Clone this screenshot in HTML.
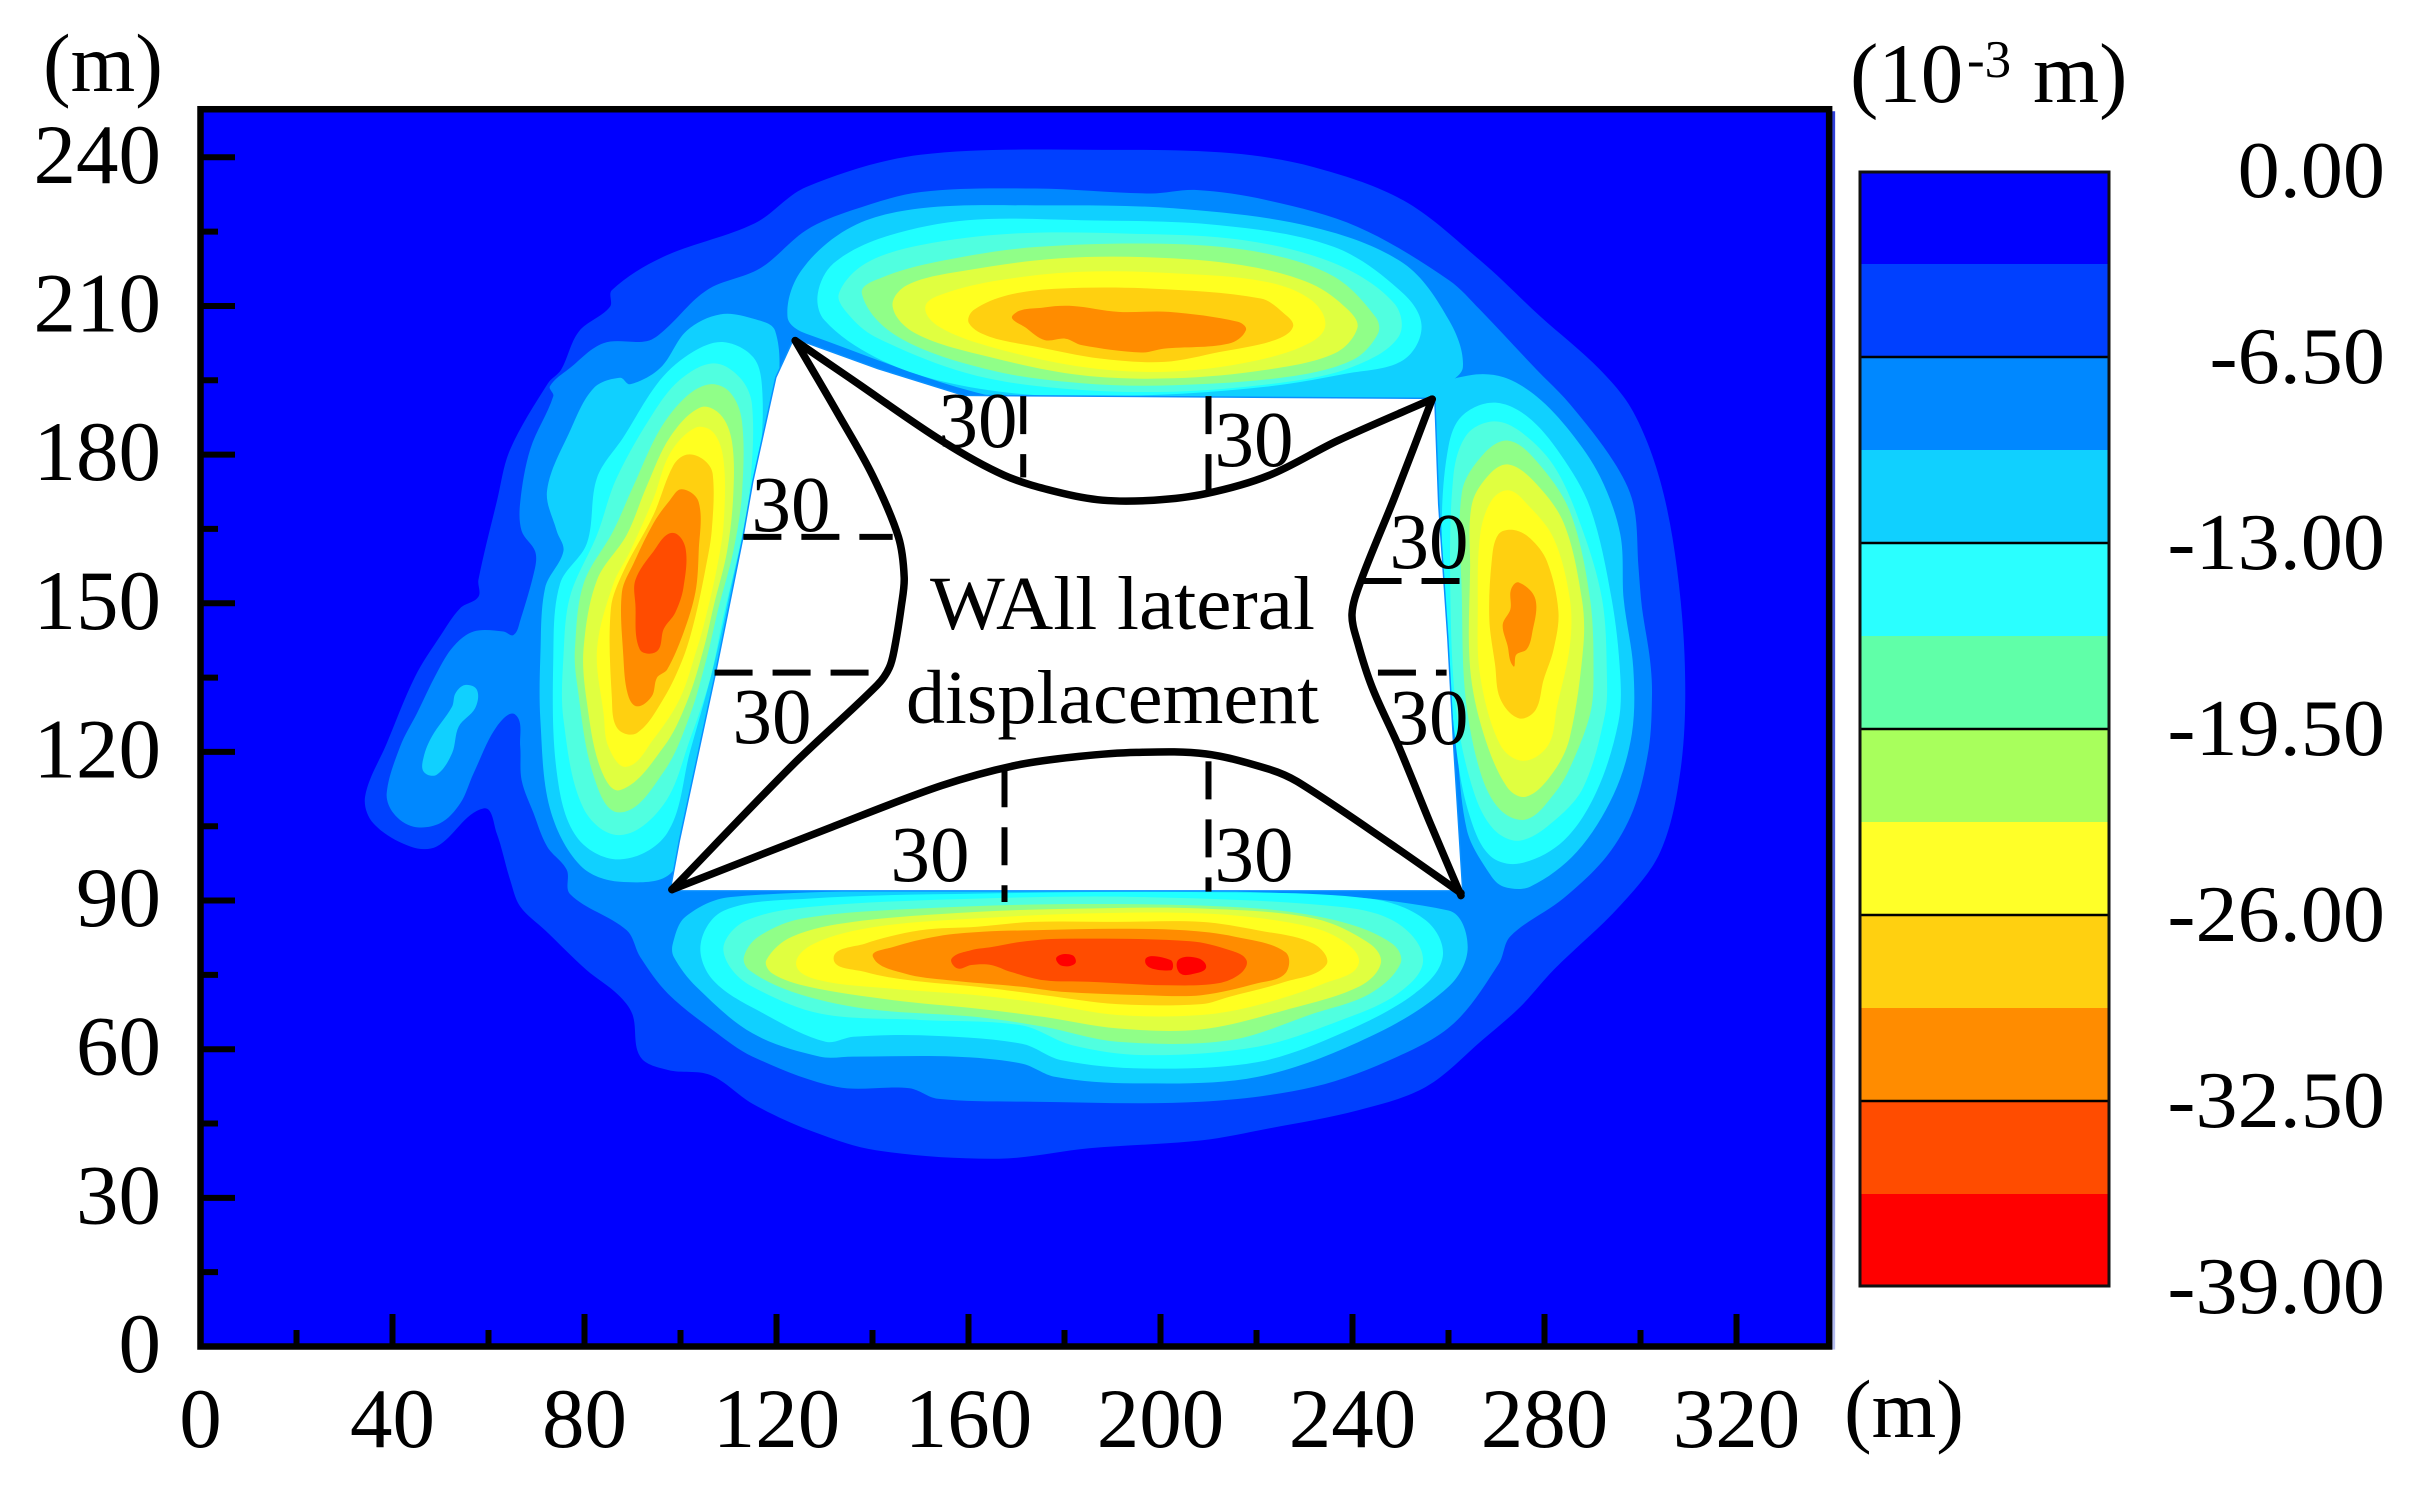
<!DOCTYPE html>
<html lang="en">
<head>
<meta charset="utf-8">
<title>Wall lateral displacement contour</title>
<style>
html,body{margin:0;padding:0;background:#fff;width:2417px;height:1487px;overflow:hidden}
svg{display:block}
text{font-family:"Liberation Serif","Times New Roman",serif;fill:#000}
</style>
</head>
<body>
<svg id="chart" xmlns="http://www.w3.org/2000/svg" width="2417" height="1487" viewBox="0 0 2417 1487">
  <defs>
    <linearGradient id="frameShadow" x1="0" y1="0" x2="0" y2="1">
      <stop offset="0" stop-color="#3040d8"/>
      <stop offset="0.7" stop-color="#5060e0"/>
      <stop offset="1" stop-color="#b8c0f0"/>
    </linearGradient>
  </defs>
  <g id="plot"></g>
  <g id="wallText">
    <text x="930" y="629" font-size="76" textLength="385" lengthAdjust="spacingAndGlyphs">WAll lateral</text>
    <text x="906" y="723" font-size="76" textLength="413" lengthAdjust="spacingAndGlyphs">displacement</text>
    <text x="978" y="447" font-size="79" text-anchor="middle">30</text>
    <text x="1254" y="466" font-size="79" text-anchor="middle">30</text>
    <text x="791" y="531" font-size="79" text-anchor="middle">30</text>
    <text x="772" y="743" font-size="79" text-anchor="middle">30</text>
    <text x="1429" y="568" font-size="79" text-anchor="middle">30</text>
    <text x="1429" y="744" font-size="79" text-anchor="middle">30</text>
    <text x="930" y="881" font-size="79" text-anchor="middle">30</text>
    <text x="1254" y="881" font-size="79" text-anchor="middle">30</text>
  </g>
  <g id="axes"></g>
  <text x="43" y="91" font-size="83">(m)</text>
  <text x="1844" y="1437" font-size="83">(m)</text>
  <g id="colorbar"></g>
  <text y="102" font-size="85"><tspan x="1850">(10</tspan><tspan x="1967" y="77" font-size="53">-3</tspan><tspan x="2033" y="102">m)</tspan></text>
</svg>
<script>
// Axis tick values
const xMajorTicks = [0,40,80,120,160,200,240,280,320];
const xMinorTicks = [20,60,100,140,180,220,260,300];
const yMajorTicks = [0,30,60,90,120,150,180,210,240];
const yMinorTicks = [15,45,75,105,135,165,195,225];
const xDomainMax = 339.3;
const yDomainMax = 249.7;

// Colorbar
const colorbarTicks = [0,-6.5,-13,-19.5,-26,-32.5,-39];
const colorbarLabels = ['0.00','-6.50','-13.00','-19.50','-26.00','-32.50','-39.00'];
const colorbarBandEdges = [0,-3.25,-6.5,-9.75,-13,-16.25,-19.5,-22.75,-26,-29.25,-32.5,-35.75,-39];
const colorbarColors = ['#0000ff','#0040ff','#0088ff','#10d0ff','#2affff','#60ffa8','#a8ff5c','#ffff28','#ffd010','#ff8c00','#ff4c00','#ff0000'];

// Field fill colours by contour level
const levelColors = ['#0000ff','#0040ff','#0088ff','#10d0ff','#20ffff','#50ffe0','#90ff88','#e0ff40','#ffff20','#ffd010','#ff8c00','#ff4c00','#ff0000'];

// Contour outlines, in metres [x, y]
const outerL1 = [[91.6,58.5],[97.4,55.8],[106.2,54.8],[115,49],[126.7,43.7],[140.7,39.6],[166.4,37.9],[185.1,40],[208.5,41.6],[222.5,44],[241.3,47.7],[255.3,52.4],[267,61.8],[274.9,68.5],[281.9,76],[295.8,89],[304.1,99.8],[308.3,116],[309.3,135.3],[307.6,157],[304.1,174.7],[298.5,188.6],[291.6,197.1],[279,208],[266.6,219.2],[250.6,231.3],[232,238],[215,240.8],[190,241.5],[150,240.5],[126.2,234],[115.5,226.7],[96.4,219.9],[85.7,213.2],[85.3,209.8],[78.8,204.8],[75.1,197.1],[72.4,194.4],[64.5,181],[61.8,170.8],[57.9,154.7],[57.9,151.3],[54.1,149],[49.9,143.3],[44.7,135.2],[38.8,121.7],[34.3,111],[36,105.6],[43.7,100.9],[49.2,100.9],[59,108.6],[61.7,103.6],[64.5,94.2],[66.6,88.8],[71.8,84],[80.4,76],[87,71],[90,67]];
const outerL2 = [[91.6,78.6],[97.4,71.2],[106.8,63.8],[115,58.5],[132.5,52.4],[147.7,52.1],[153.6,50],[173.4,49.4],[208.5,49.4],[231.9,52.4],[249.4,58.5],[261.1,65.2],[270.5,77.3],[272.9,82.8],[284,90.5],[293,99],[298.5,108.3],[301.7,120.6],[302.4,131.5],[302,138.4],[300.3,149.2],[299.6,157],[298.5,170.1],[294.4,178.6],[285.3,190.2],[278.4,197.1],[266.6,209.2],[260.1,215.2],[241,226],[221.9,231.4],[207.5,233.4],[197.9,232.7],[174,233.7],[150.1,233],[135.7,229.3],[126.2,225.3],[116.6,217.6],[105.5,213.2],[96.5,205],[93,202.9],[84,202.5],[77,197.5],[72.8,193.8],[73.5,191.8],[68.7,181.1],[66.6,170.4],[66.9,164.6],[69.7,160.5],[69.7,157.2],[66.6,146.5],[65.2,143.6],[63.1,144.3],[56.9,144.3],[52.7,141.3],[49.2,135.9],[45.1,127.8],[41.6,121.1],[38.8,111.7],[40.2,107.6],[44.4,104.9],[49.9,105.6],[54.1,109.6],[56.9,115.7],[61.7,125.1],[65.6,127.5],[66.6,121.1],[66.9,114.3],[69.4,107.6],[72.2,100.9],[76.3,96.2],[77,91.3],[88.8,84]];
const tailL3 = [[55.1,133.5],[57.6,132.5],[57.2,128.8],[53.8,125.1],[52.4,119.7],[49.2,115.4],[46.5,116],[46.5,119],[48.2,123.1],[52.4,129.1],[53.1,131.8]];

const leftL3 = [[108.3,208.3],[115.2,207.4],[119.7,205],[120.2,192.6],[116,174.5],[111.8,155.5],[108.2,140.7],[103.2,116],[98.6,96.2],[87.4,93.8],[79.1,97.1],[72.8,108.6],[70.8,126.7],[70.8,139.1],[71.8,153.1],[75.6,160.5],[74.2,164.6],[72.2,172.8],[77,184.8],[81.9,193.4],[87.4,195.5],[89.5,194.2],[95.8,197.5],[101.3,205]];
const leftL4 = [[109,202.7],[115.2,199.6],[117,193.4],[116.6,180.2],[113.8,167],[111,155.5],[106.9,137.4],[102,120.1],[97.2,103.6],[87.4,98.3],[78.4,102.8],[74.2,116],[73.5,139.1],[74.9,153.9],[80.5,162.1],[82.6,175.3],[88.1,183.5],[95.8,195.1],[102.7,200.8]];
const leftL5 = [[106.9,198.4],[112.4,195.5],[114.9,190.1],[114.5,173.7],[112.1,160.5],[108.9,147.3],[106.2,134.9],[102,122.6],[96.5,109.4],[87.4,103.2],[79.8,108.6],[75.6,126.7],[75.6,139.1],[77,151.4],[82.6,163.8],[86.7,175.3],[94.4,188.5],[99.9,195.1]];
const leftL6 = [[106.2,194.2],[110.3,192.6],[112.8,186.8],[112.8,172],[111,160.5],[107.9,149],[105.5,139.1],[102,127.5],[96.5,116],[87.4,107.8],[81.9,115.2],[78.4,134.1],[78,140.7],[79.8,153.9],[86,164.6],[90.2,173.7],[95.8,185.2],[101.3,191.8]];
const leftL7 = [[104.1,189.5],[108.3,188.1],[110.7,182.7],[111,172],[109.7,160.5],[107,149.8],[104.8,140.7],[101.3,130],[96.5,121],[87.4,112.3],[83.3,116.8],[80.5,130],[79.8,140.7],[82.6,154.7],[88.8,163.8],[93,173.7],[97.8,183.5]];
const leftL8 = [[103.1,185.4],[106.9,184.4],[109,178.6],[109,166.2],[107.6,157.2],[105.3,147.3],[103.4,140.7],[99.9,130.8],[94.4,122.6],[88.8,117],[85,121],[84,127.5],[82.6,140.7],[86,153.9],[89.5,160.5],[94.4,171.2],[97.8,180.2]];
const leftL9 = [[101.3,180],[104.8,179],[106.7,176.1],[106.5,164.6],[105.1,156.4],[103.1,147.3],[100.6,139.1],[96.5,130.8],[90.9,123.8],[86.9,124.7],[85.7,130.8],[85.5,149],[88.1,156.4],[94.4,167.9],[98.5,177.8]];
const leftL10 = [[100.3,173],[103.8,170.4],[103.8,160.5],[103.1,152.2],[100.6,144],[97.2,136.6],[95.1,135],[94,131.2],[90.9,129.2],[89,131.7],[88.1,139.1],[87.8,152.2],[90.2,158],[94.4,166.2],[97.8,170.8]];
const leftL11 = [[98.2,164.2],[101,161.3],[100.6,153.1],[98.9,148.1],[96.5,144.8],[95.1,140.3],[91.5,140.7],[90.6,149.8],[90.6,154.7],[94.4,160.5]];

const topL3 = [[122.3,207.8],[125.2,217.2],[135.7,226],[150.1,229.7],[174,230.3],[202.7,229.7],[231.4,226],[250.6,218.6],[260.1,207.1],[263,197.7],[259.2,193.4],[258.2,190.3],[174,190.3],[126.2,204.4]];
const topL4 = [[128.6,212.5],[131.9,218.6],[142.4,223.9],[159.7,227.3],[183.6,227.3],[212.3,226.3],[236.2,221.9],[250.6,212.5],[254.4,205.8],[250.6,199.1],[239.1,196.4],[221.9,193.7],[197.9,192],[174,192],[154.9,194.7],[140.5,199.7],[130,207.1]];
const topL5 = [[133,212.5],[138.6,218.6],[150.1,222.3],[169.2,224.6],[193.2,224.6],[217.1,223.3],[236.2,218.6],[248.7,210.5],[249.6,203.8],[240,197.7],[226.6,194.7],[202.7,192.7],[178.8,193.4],[159.7,196.4],[140.5,203.8],[134.8,208.5]];
const topL6 = [[137.8,212.5],[142.4,215.9],[154.9,219.2],[174,221.9],[202.7,222.5],[221.9,220.6],[236.2,215.9],[244.8,207.8],[245.3,204.4],[240,199.1],[226.6,195.7],[202.7,194],[183.6,194.4],[164.4,197.1],[145.3,203.8]];
const topL7 = [[144.2,209.8],[147.2,214.2],[159.7,217.2],[178.8,219.6],[198,219.8],[217.1,218.2],[231.4,214.5],[239.1,209.2],[241,205.5],[236.2,200.4],[221.9,197.1],[202.7,195.4],[183.6,196],[164.4,199.7],[149.1,204.4]];
const topL8 = [[151,209.8],[154.9,212.5],[166.4,215.2],[183.6,216.9],[202.7,216.6],[221.9,214.9],[231.4,211.2],[234.3,205.8],[229.5,201.8],[217,198.4],[200.8,196.7],[183.6,197.7],[164.4,201.8],[153.9,205.8]];
const topL9 = [[161.1,209.2],[168.3,212.2],[178.8,213.5],[198,213.5],[220.9,211.5],[225.7,208.5],[227.6,205.8],[223.8,203.1],[212.3,200.7],[200.8,198.7],[187.4,199.4],[174,201.8],[164.4,203.8],[160.1,206.5]];
const topL10 = [[169.2,208.1],[175.9,209.7],[181.7,210],[191.2,208.8],[201.8,208.8],[216.1,206.8],[217.8,205.1],[214.2,202.4],[200.8,201.4],[196,200.6],[183.6,202.1],[180.2,203.4],[175.9,203.1],[172.1,205.5]];

const rightL3 = [[271.5,195.6],[278.4,191.7],[285.3,184.7],[291.6,175.5],[295.8,163.9],[296.5,150.8],[298.5,136.9],[298.2,123.7],[294.4,111.4],[286.7,99.8],[277,92.8],[271.5,92.8],[268.7,95.2],[263.8,104.4],[261.2,127.6],[258,150.8],[256.8,181.7],[258,193.2],[264.5,196]];
const rightL4 = [[269.4,190.5],[276.3,187.8],[283.3,180.1],[289.5,169.3],[294,150.8],[295.8,135.3],[295.4,126],[290.9,112.1],[284,102.1],[274.9,97.5],[268.7,99],[264.5,106.8],[261.7,119.9],[259.7,143.1],[258.6,166.2],[260,181.7],[262.8,187.8]];
const rightL5 = [[269.4,186.7],[274.9,184.7],[281.9,177.8],[287.4,166.2],[292,150.8],[293,135.3],[292.6,127.6],[288.1,112.9],[281.9,106],[274.9,102.1],[269.4,104.4],[265.2,112.1],[261.7,127.6],[260.4,150.8],[261,175.5],[263.8,184]];
const rightL6 = [[272.5,182.8],[278.4,178.6],[285.3,168.5],[289.5,150.8],[290.2,135.3],[289.5,127.6],[285.3,116.8],[281.9,111.4],[276.3,106.4],[270.8,108.3],[266.6,116],[263.5,131.5],[262.8,150.8],[262.8,172.4],[267.3,180.1]];
const rightL7 = [[272.5,178],[277.7,174.7],[284,166.2],[287.8,150.8],[288.1,141.5],[285.3,123],[281.9,116],[276.3,111],[272.2,112.9],[267.3,123.7],[264.5,136.9],[264.5,157],[264.9,170.1],[268.7,176.2]];
const rightL8 = [[272.5,172.8],[276.3,170.1],[281.9,163.1],[285.3,150.8],[285.3,141.5],[282.6,129.1],[280.8,121.4],[275.6,118.2],[270.8,121.4],[266.6,135.3],[266.1,149.2],[266.6,163.9],[269,170.8]];
const rightL9 = [[273.5,164.8],[277,163.1],[280.5,158.5],[282.9,148.4],[281.9,140.7],[279.8,134.5],[278.1,128.4],[274.6,126.8],[270.8,130.7],[269.7,137.6],[268.5,146.9],[269,158.5],[270.4,163.9]];
const rightL10 = [[274.6,154.2],[278.1,150.8],[277.4,143.8],[276.3,140.7],[274.1,139.6],[273.5,137.3],[272.3,141.5],[271.3,145.7],[272.9,148.8],[273,152.7]];

const bottomL3 = [[98.4,81.3],[101,86.7],[110.3,90.7],[161.8,92.1],[208.5,92.1],[260,88],[264,80.6],[260,72.6],[243.6,62.5],[220.2,54.4],[194.5,53.1],[178.1,54.4],[171.1,57.1],[157.1,58.5],[136,58.5],[129,58.5],[115,63.2],[103.3,72.6],[98.6,78.6]];
const bottomL4 = [[104.2,81.3],[109.1,88],[126.7,90.4],[161.8,91.4],[208.5,91.7],[243.6,90.4],[255.3,86],[258.8,78.6],[252.9,71.2],[237.7,63.2],[220.2,57.4],[196.8,56.1],[179.3,57.8],[171.1,61.1],[150,62.8],[136,62.5],[130.2,61.5],[117.3,67.2],[106.8,73.9]];
const bottomL5 = [[109.1,81.3],[113.8,86],[126.7,88.7],[161.8,90.4],[196.8,90.7],[237.7,88.7],[249.4,85.4],[254.7,78],[249.4,71.2],[237.7,65.9],[220.2,60.5],[196.8,58.8],[181.6,60.8],[171.1,64.8],[150,65.9],[129,67.2],[115,72.6],[110.3,76.6]];
const bottomL6 = [[113.2,78.6],[116.2,82.7],[125.5,86.4],[150,88.4],[185.1,89.3],[220.2,88.4],[237.7,85.7],[248.3,81.3],[250,77.3],[243.6,71.2],[231.9,67.2],[214.4,61.8],[191,61.5],[175.8,64.5],[161.8,66.5],[138.4,68.2],[123.2,71.6],[114.4,75.9]];
const bottomL7 = [[117.9,78],[123.2,82.7],[136,85.7],[161.8,87.7],[185.1,88.4],[208.5,88.4],[231.9,86.4],[243.6,81.3],[245.9,77.3],[241.3,72.6],[226,67.9],[208.5,64],[191,64.2],[175.8,66.5],[161.8,68.2],[144.2,69.9],[126.7,72.6],[119.1,75.3]];
const bottomL8 = [[124.1,77],[127.8,81.3],[140.7,84.7],[161.8,86.4],[185.1,87.4],[208.5,87.4],[226,85.7],[236.6,82.7],[241.3,77.3],[234.2,73.3],[220.2,68.9],[208.5,66.9],[191,66.9],[175.8,69.2],[161.8,70.9],[144.2,72.2],[129,73.9]];
const bottomL9 = [[131.9,78.3],[138.4,81.3],[150,84],[161.8,84.7],[173.4,85.7],[191,85.7],[208.5,85.7],[220.2,84],[231.9,81.3],[234.5,77],[226,73.6],[214.4,70.6],[208.5,69.1],[191,69.1],[175.8,70.9],[161.8,72.6],[147.7,73.9],[138.4,75.6]];
const bottomL10 = [[140.1,78.6],[144.2,80.6],[153.6,82.8],[162.9,83.7],[173.4,84],[191,84.3],[205,84],[215.5,82.7],[226,79.6],[226,75.3],[220.2,73.3],[208.5,70.9],[196.8,70.9],[179.3,71.6],[171.1,72.6],[155.9,73.9],[146.6,75.3]];
const bottomL11 = [[156.5,78.3],[160.6,80],[164.7,80.6],[171.1,81.7],[179.3,82.3],[206.2,81.8],[214.4,80],[217.9,78],[216.7,75.3],[212,73.3],[201.5,72.9],[185.1,73.6],[175.8,73.9],[168.8,75.6],[164.7,77],[160.6,77],[157.7,76.3]];
const bottomSpotA = [[178.4,78.6],[181.6,79],[182.2,77.3],[179.3,76.9]];
const bottomSpotB = [[203.8,78.1],[208,78.3],[209.5,76.5],[207.3,75.3],[204.1,75.3]];
const bottomSpotC = [[196.8,77.8],[202.1,78],[202.1,75.9]];

// Excavation opening (no field values)
const openingOutline = [[123.7,203.3],[141.1,197.2],[159,191.8],[257,191.2],[257.8,170],[259.7,143],[261,120],[262.8,92.1],[98,92.1],[99.9,102],[107.6,136.6],[113.1,163],[115.2,174.5],[120,195.5]];

// Deformed wall curves
const wallTop = [[123.9,203],[135.2,195.5],[154.4,182.8],[167.5,175.8],[178.3,172.5],[187.9,170.8],[198.6,170.8],[209.4,172.1],[222.6,175.8],[236.9,182.8],[256.6,191.2]];
const wallRight = [[256.6,191.2],[248.9,171.7],[241.7,154.4],[239.9,147.8],[241.1,142],[244.1,133],[249.5,121.4],[256.1,105.8],[262.6,91]];
const wallBottom = [[262.6,91.5],[247.7,101.6],[228.5,114],[222.6,116.5],[209.4,119.6],[195,119.9],[183.1,119.1],[169.9,117.3],[154.4,113.2],[131.7,104.9],[98.2,92.2]];
const wallLeft = [[98.2,92.2],[123.3,117.3],[141,133.5],[143.5,137],[144.6,141],[146,149.4],[146.6,155.2],[145.4,163.4],[140,175.8],[132.9,188.1],[123.9,203]];

// Dashed 30 m offset markers: [x1, y1, x2, y2]
const offsetTopA = [171.4,191.8,171.4,175.4];
const offsetTopB = [210,191.8,210,172];
const offsetLeftA = [113.1,163.4,144.2,163.4];
const offsetLeftB = [107.1,136,140,136];
const offsetRightA = [242.3,154.5,262.6,154.5];
const offsetRightB = [245.3,136,259.6,136];
const offsetBottomA = [167.5,116.5,167.5,89.7];
const offsetBottomB = [210,118.1,210,91.8];

const contourLayers = [
  ['outer-level-1',1,outerL1],['outer-level-2',2,outerL2],['tail-level-3',3,tailL3],
  ['left-level-3',3,leftL3],['top-level-3',3,topL3],['right-level-3',3,rightL3],['bottom-level-3',3,bottomL3],
  ['left-level-4',4,leftL4],['top-level-4',4,topL4],['right-level-4',4,rightL4],['bottom-level-4',4,bottomL4],
  ['left-level-5',5,leftL5],['top-level-5',5,topL5],['right-level-5',5,rightL5],['bottom-level-5',5,bottomL5],
  ['left-level-6',6,leftL6],['top-level-6',6,topL6],['right-level-6',6,rightL6],['bottom-level-6',6,bottomL6],
  ['left-level-7',7,leftL7],['top-level-7',7,topL7],['right-level-7',7,rightL7],['bottom-level-7',7,bottomL7],
  ['left-level-8',8,leftL8],['top-level-8',8,topL8],['right-level-8',8,rightL8],['bottom-level-8',8,bottomL8],
  ['left-level-9',9,leftL9],['top-level-9',9,topL9],['right-level-9',9,rightL9],['bottom-level-9',9,bottomL9],
  ['left-level-10',10,leftL10],['top-level-10',10,topL10],['right-level-10',10,rightL10],['bottom-level-10',10,bottomL10],
  ['left-level-11',11,leftL11],['bottom-level-11',11,bottomL11],
  ['bottom-peak-a',12,bottomSpotA],['bottom-peak-b',12,bottomSpotB],['bottom-peak-c',12,bottomSpotC]
];
const wallCurves = [['wall-top',wallTop],['wall-right',wallRight],['wall-bottom',wallBottom],['wall-left',wallLeft]];
const offsetMarkers = [
  ['offset-top-a',offsetTopA],['offset-top-b',offsetTopB],['offset-left-a',offsetLeftA],['offset-left-b',offsetLeftB],
  ['offset-right-a',offsetRightA],['offset-right-b',offsetRightB],['offset-bottom-a',offsetBottomA],['offset-bottom-b',offsetBottomB]
];

// Axis functions
function xScale(v){ return 200.5 + 4.8 * v; }
function yScale(v){ return 1346.5 - 4.955 * v; }
function cScale(v){ return 171 + (-v) / 39 * 1116; }

const NS = 'http://www.w3.org/2000/svg';
function make(tag, parent, attrs, text){
  const el = document.createElementNS(NS, tag);
  for (const k in attrs) el.setAttribute(k, attrs[k]);
  if (text !== undefined) el.textContent = text;
  parent.appendChild(el);
  return el;
}
function toPixels(pts){ return pts.map(p => [xScale(p[0]), yScale(p[1])]); }
function unit(a, c){
  const dx = c[0] - a[0], dy = c[1] - a[1], len = Math.hypot(dx, dy) || 1;
  return [dx / len, dy / len];
}
function segment(a, b, c, e){
  const len = Math.hypot(c[0] - b[0], c[1] - b[1]) * 0.33;
  const t1 = unit(a, c), t2 = unit(b, e);
  return 'C' + (b[0] + t1[0] * len).toFixed(1) + ' ' + (b[1] + t1[1] * len).toFixed(1) + ' ' +
         (c[0] - t2[0] * len).toFixed(1) + ' ' + (c[1] - t2[1] * len).toFixed(1) + ' ' +
         c[0].toFixed(1) + ' ' + c[1].toFixed(1);
}
function closedPath(pts){
  const p = toPixels(pts), n = p.length;
  let d = 'M' + p[0][0].toFixed(1) + ' ' + p[0][1].toFixed(1);
  for (let i = 0; i < n; i++){
    d += segment(p[(i - 1 + n) % n], p[i], p[(i + 1) % n], p[(i + 2) % n]);
  }
  return d + 'Z';
}
function openPath(pts){
  const p = toPixels(pts), n = p.length;
  let d = 'M' + p[0][0].toFixed(1) + ' ' + p[0][1].toFixed(1);
  for (let i = 0; i < n - 1; i++){
    d += segment(p[Math.max(i - 1, 0)], p[i], p[i + 1], p[Math.min(i + 2, n - 1)]);
  }
  return d;
}

const plot = document.getElementById('plot');
const axes = document.getElementById('axes');
const colorbar = document.getElementById('colorbar');

const shadow = make('rect', plot, {x:xScale(xDomainMax)+1, y:yScale(yDomainMax)+2, width:5, height:yScale(0)-yScale(yDomainMax)+1, fill:'url(#frameShadow)'});



const fieldBase = make('rect', plot, {x:xScale(0), y:yScale(yDomainMax), width:xScale(xDomainMax)-xScale(0), height:yScale(0)-yScale(yDomainMax), fill:levelColors[0]});



contourLayers.forEach(function(layer){
  const region = make('path', plot, {d:closedPath(layer[2]), fill:levelColors[layer[1]]});
  
  
});

const opening = make('polygon', plot, {
  points: toPixels(openingOutline).map(p => p.join(',')).join(' '),
  fill:'#ffffff', stroke:'#0a90ff', 'stroke-width':3, 'paint-order':'stroke', 'stroke-linejoin':'round'
});



offsetMarkers.forEach(function(m){
  const v = m[1];
  const line = make('line', plot, {x1:xScale(v[0]), y1:yScale(v[1]), x2:xScale(v[2]), y2:yScale(v[3]), stroke:'#000', 'stroke-width':6, 'stroke-dasharray':'38 20'});
  
  
});

wallCurves.forEach(function(w){
  const curve = make('path', plot, {d:openPath(w[1]), fill:'none', stroke:'#000', 'stroke-width':7.5, 'stroke-linejoin':'round', 'stroke-linecap':'round'});
  
  
});

// Frame
const frame = make('rect', axes, {x:xScale(0), y:yScale(yDomainMax), width:xScale(xDomainMax)-xScale(0), height:yScale(0)-yScale(yDomainMax), fill:'none', stroke:'#000', 'stroke-width':6.5});



// Ticks
xMajorTicks.forEach(function(v){
  const t = make('line', axes, {x1:xScale(v), x2:xScale(v), y1:1346, y2:1314, stroke:'#000', 'stroke-width':6});
  
  
  const l = make('text', axes, {x:xScale(v), y:1447, 'font-size':85, 'text-anchor':'middle'}, String(v));
  
  
});
xMinorTicks.forEach(function(v){
  const t = make('line', axes, {x1:xScale(v), x2:xScale(v), y1:1346, y2:1330, stroke:'#000', 'stroke-width':6});
  
  
});
yMajorTicks.forEach(function(v){
  const t = make('line', axes, {x1:200, x2:235, y1:yScale(v), y2:yScale(v), stroke:'#000', 'stroke-width':6});
  
  
  const l = make('text', axes, {x:161, y:yScale(v)+25.5, 'font-size':85, 'text-anchor':'end'}, String(v));
  
  
});
yMinorTicks.forEach(function(v){
  const t = make('line', axes, {x1:200, x2:218, y1:yScale(v), y2:yScale(v), stroke:'#000', 'stroke-width':6});
  
  
});

// Colorbar
colorbarColors.forEach(function(c, i){
  const top = cScale(colorbarBandEdges[i]);
  const bottom = cScale(colorbarBandEdges[i + 1]);
  const band = make('rect', colorbar, {x:1860, y:top, width:249, height:bottom-top, fill:c});
  
  
});
colorbarTicks.forEach(function(v, i){
  if (i > 0 && i < colorbarTicks.length - 1){
    const line = make('line', colorbar, {x1:1860, x2:2109, y1:cScale(v), y2:cScale(v), stroke:'#000', 'stroke-width':2.5});
    
    
  }
  const label = make('text', colorbar, {x:0, y:0, 'font-size':81, 'text-anchor':'end', transform:'translate(2385 ' + (cScale(v)+26) + ') scale(1.04 1)'}, colorbarLabels[i]);
  
  
});
const barFrame = make('rect', colorbar, {x:1860, y:172, width:249, height:1114, fill:'none', stroke:'#111', 'stroke-width':3});


</script>
</body>
</html>
